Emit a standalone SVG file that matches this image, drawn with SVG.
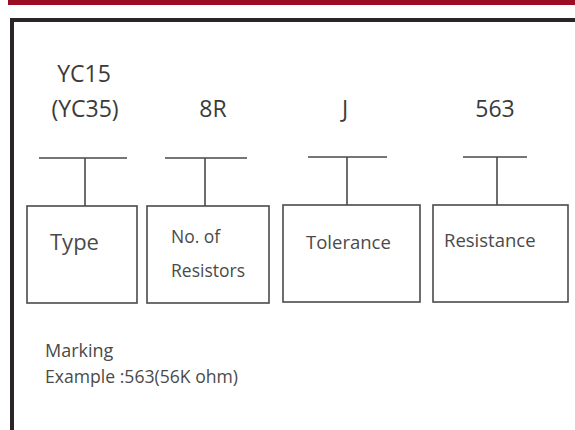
<svg xmlns="http://www.w3.org/2000/svg" width="575" height="430" viewBox="0 0 575 430">
<style>
.box{fill:#fff;stroke:#4a4a4a;stroke-width:1.6}
.conn{stroke:#4a4a4a;stroke-width:1.6;fill:none}
.lbl{font-family:"Open Sans","Liberation Sans",Arial,sans-serif;fill:#3a3a3a;font-size:23px}
.txt{font-family:"Open Sans","Liberation Sans",Arial,sans-serif;fill:#4a4a4a}
</style>
<rect x="0" y="0" width="575" height="430" fill="#fff"/>
<rect x="8" y="0" width="567" height="5" fill="#9b0d22"/>
<path d="M12 430 V20 H575" fill="none" stroke="#2b2429" stroke-width="4"/>
<g id="labels">
<text class="lbl" x="84" y="82" text-anchor="middle">YC15</text>
<text class="lbl" x="85" y="117" text-anchor="middle">(YC35)</text>
<text class="lbl" x="213" y="117" text-anchor="middle">8R</text>
<text class="lbl" x="345" y="117" text-anchor="middle">J</text>
<text class="lbl" x="495" y="117" text-anchor="middle">563</text>
</g>
<g id="connectors">
<path class="conn" d="M39 158 H127 M85 158 V206"/>
<path class="conn" d="M165 158 H247 M205 158 V206"/>
<path class="conn" d="M308 157 H387 M347 157 V205"/>
<path class="conn" d="M463 157 H527 M497 157 V205"/>
</g>
<g id="node-type">
<rect class="box" x="27" y="206" width="110" height="97"/>
<text class="txt" x="50" y="250" font-size="22">Type</text>
</g>
<g id="node-resistors">
<rect class="box" x="147" y="206" width="122" height="97"/>
<text class="txt" x="171" y="243" font-size="17.5">No. of</text>
<text class="txt" x="171" y="277" font-size="17.5">Resistors</text>
</g>
<g id="node-tolerance">
<rect class="box" x="283" y="205" width="137" height="97"/>
<text class="txt" x="306" y="249" font-size="18.5">Tolerance</text>
</g>
<g id="node-resistance">
<rect class="box" x="433" y="205" width="135" height="97"/>
<text class="txt" x="444" y="247" font-size="18.5">Resistance</text>
</g>
<g id="note">
<text class="txt" x="45" y="357" font-size="18">Marking</text>
<text class="txt" x="45" y="383" font-size="17.6">Example :563(56K ohm)</text>
</g>
</svg>
